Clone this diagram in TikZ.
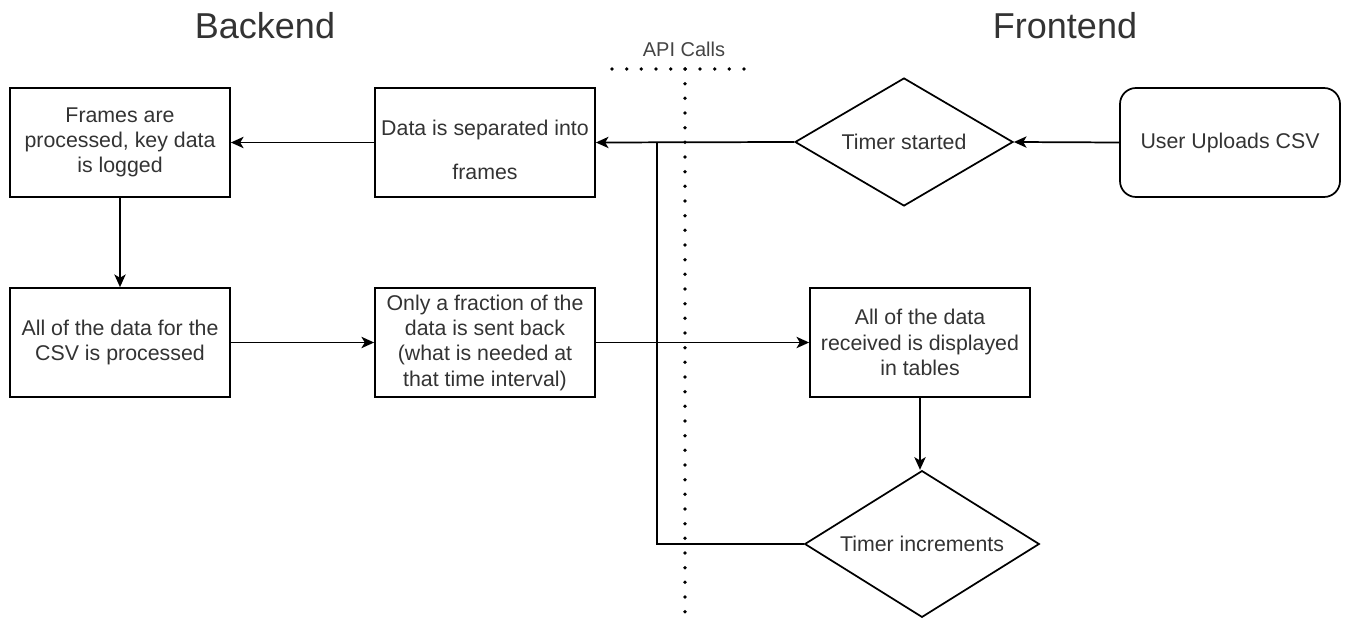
\documentclass[tikz,border=0pt]{standalone}
\usepackage{fontspec}
\setmainfont{Liberation Sans}
\usetikzlibrary{arrows.meta,shapes.geometric}
\definecolor{txt}{HTML}{333333}
\definecolor{apitxt}{HTML}{444444}
\begin{document}
\begin{tikzpicture}[x=0.75pt,y=-0.75pt,
  box/.style={draw=black,line width=1.3pt,minimum width=165pt,minimum height=81.75pt,inner sep=2pt,align=center,text=txt,font=\fontsize{16pt}{19pt}\selectfont},
  rbox/.style={box,rounded corners=12pt},
  dia/.style={draw=black,line width=1.3pt,diamond,aspect=2,inner sep=0pt,align=center,text=txt,font=\fontsize{16pt}{19pt}\selectfont},
  txtonly/.style={align=center,text=txt,font=\fontsize{16pt}{19pt}\selectfont},
  title/.style={text=txt,font=\fontsize{27pt}{31pt}\selectfont},
  small/.style={text=apitxt,font=\fontsize{15pt}{18pt}\selectfont},
  conn/.style={draw=black,line width=1.3pt},
  arr/.style={conn,-{Stealth[length=9.5pt,width=8.5pt,inset=2.5pt]}},
  dots/.style={draw=black,line width=2.8pt,line cap=round,dash pattern=on 0pt off 11pt}
]
\useasboundingbox (0,0) rectangle (1345,624);
\node[title] (tb) at (265,26) {Backend};
\node[title] (tf) at (1065,26) {Frontend};
\node[small] (api) at (684,49) {API Calls};
\coordinate (h1) at (612,69);
\coordinate (h2) at (748,69);
\coordinate (v1) at (685,69);
\coordinate (v2) at (685,618);
\draw[dots] (h1) -- (h2);
\draw[dots] (v1) -- (v2);

\node[box] (A) at (120,142.5) {Frames are\\processed, key data\\is logged};
\node[box] (B) at (485,142.5) {};
\node[txtonly] (Bt) at (485,150) {Data is separated into\\[14pt]frames};
\node[dia,minimum width=163.5pt,minimum height=96pt] (ts) at (904,142) {Timer started};
\node[rbox] (U) at (1230,142.5) {User Uploads CSV};
\node[box] (C) at (120,342.5) {All of the data for the\\CSV is processed};
\node[box] (D) at (485,342.5) {Only a fraction of the\\data is sent back\\(what is needed at\\that time interval)};
\node[box] (E) at (920,342.5) {All of the data\\received is displayed\\in tables};
\node[dia,minimum width=176pt,minimum height=110pt] (ti) at (922,544) {Timer increments};
\coordinate (J) at (657,142);

\draw[arr] (B.west) -- (A.east);
\draw[arr] (ts.west) -- (B.east);
\draw[arr] (U.west) -- (ts.east);
\draw[arr] (A.south) -- (C.north);
\draw[arr] (C.east) -- (D.west);
\draw[arr] (D.east) -- (E.west);
\draw[arr] (E.south) -- (E.south |- ti.north);
\draw[conn] (ti.west) -| (J);
\end{tikzpicture}
\end{document}
